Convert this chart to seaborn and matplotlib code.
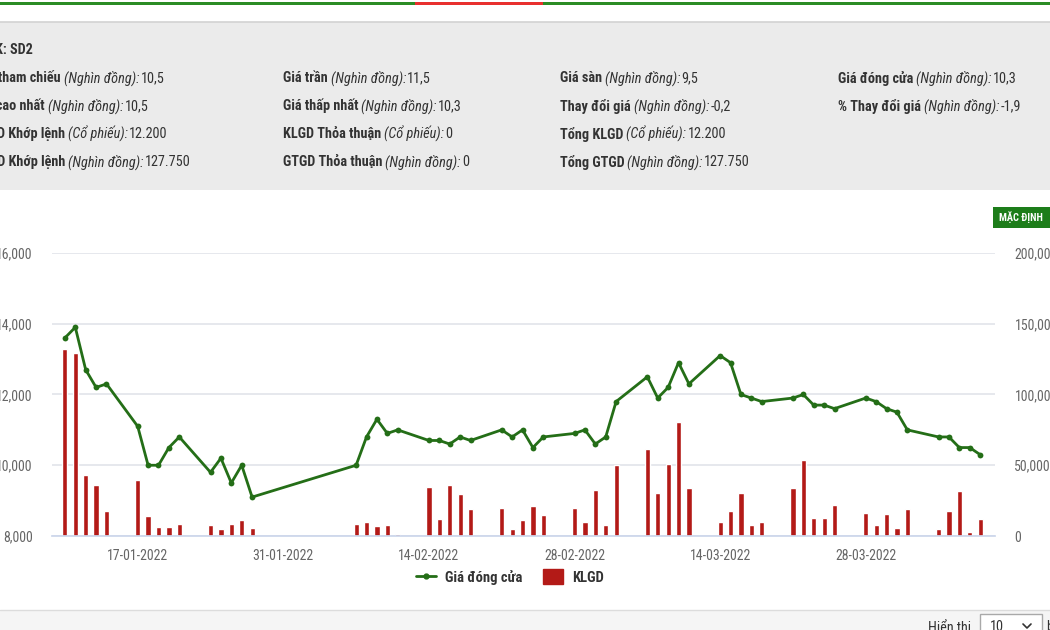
import matplotlib
matplotlib.use("Agg")
import matplotlib.pyplot as plt
import matplotlib.dates as mdates
import matplotlib.ticker as mticker
from matplotlib import font_manager
from matplotlib.lines import Line2D
from matplotlib.patches import Patch, Rectangle
from matplotlib.text import Annotation
import pandas as pd
import seaborn as sns

# ---- data ----
trade_dates = [
    "2022-01-10", "2022-01-11", "2022-01-12", "2022-01-13", "2022-01-14",
    "2022-01-17", "2022-01-18", "2022-01-19", "2022-01-20", "2022-01-21",
    "2022-01-24", "2022-01-25", "2022-01-26", "2022-01-27", "2022-01-28",
    "2022-02-07", "2022-02-08", "2022-02-09", "2022-02-10", "2022-02-11",
    "2022-02-14", "2022-02-15", "2022-02-16", "2022-02-17", "2022-02-18",
    "2022-02-21", "2022-02-22", "2022-02-23", "2022-02-24", "2022-02-25",
    "2022-02-28", "2022-03-01", "2022-03-02", "2022-03-03", "2022-03-04",
    "2022-03-07", "2022-03-08", "2022-03-09", "2022-03-10", "2022-03-11",
    "2022-03-14", "2022-03-15", "2022-03-16", "2022-03-17", "2022-03-18",
    "2022-03-21", "2022-03-22", "2022-03-23", "2022-03-24", "2022-03-25",
    "2022-03-28", "2022-03-29", "2022-03-30", "2022-03-31", "2022-04-01",
    "2022-04-04", "2022-04-05", "2022-04-06", "2022-04-07", "2022-04-08",
]
close_price = [
    13600, 13900, 12700, 12200, 12300,
    11100, 10000, 10000, 10500, 10800,
    9800, 10200, 9500, 10000, 9100,
    10000, 10800, 11300, 10900, 11000,
    10700, 10700, 10600, 10800, 10700,
    11000, 10800, 11000, 10500, 10800,
    10900, 11000, 10600, 10800, 11800,
    12500, 11900, 12200, 12900, 12300,
    13100, 12900, 12000, 11900, 11800,
    11900, 12000, 11700, 11700, 11600,
    11900, 11800, 11600, 11500, 11000,
    10800, 10800, 10500, 10500, 10300,
]
volume = [
    132000, 129300, 43100, 36300, 17900,
    39600, 14400, 6600, 6600, 8500,
    7500, 4900, 8500, 11100, 5900,
    8500, 10100, 6800, 7500, 1600,
    34600, 12000, 36300, 29400, 19100,
    19800, 4900, 11100, 21400, 14600,
    19800, 10100, 32700, 7500, 50200,
    61500, 30100, 51100, 80600, 33700,
    9900, 17900, 30100, 7500, 9900,
    33700, 53700, 12700, 12700, 22100,
    16000, 7500, 15300, 5900, 18800,
    4900, 17900, 32000, 3000, 12200,
]
tick_dates = ["2022-01-17", "2022-01-31", "2022-02-14", "2022-02-28", "2022-03-14", "2022-03-28"]
price_ticks = [8000, 10000, 12000, 14000, 16000]
volume_ticks = [0, 50000, 100000, 150000, 200000]

stock_code = "Mã CK: SD2"
info_labels = [
    ["Giá tham chiếu", "Giá cao nhất", "KLGD Khớp lệnh", "GTGD Khớp lệnh"],
    ["Giá trần", "Giá thấp nhất", "KLGD Thỏa thuận", "GTGD Thỏa thuận"],
    ["Giá sàn", "Thay đổi giá", "Tổng KLGD", "Tổng GTGD"],
    ["Giá đóng cửa", "% Thay đổi giá"],
]
info_units = [
    ["(Nghìn đồng):", "(Nghìn đồng):", "(Cổ phiếu):", "(Nghìn đồng):"],
    ["(Nghìn đồng):", "(Nghìn đồng):", "(Cổ phiếu):", "(Nghìn đồng):"],
    ["(Nghìn đồng):", "(Nghìn đồng):", "(Cổ phiếu):", "(Nghìn đồng):"],
    ["(Nghìn đồng):", "(Nghìn đồng):"],
]
info_values = [
    ["10,5", "10,5", "12.200", "127.750"],
    ["11,5", "10,3", "0", "0"],
    ["9,5", "-0,2", "12.200", "127.750"],
    ["10,3", "-1,9"],
]

GREEN = "#246e17"
RED = "#b31a17"
TXT = "#333333"
AXIS_TXT = "#666666"

sns.set_theme(style="white")
# pick the narrowest installed family we can find
installed = {f.name for f in font_manager.fontManager.ttflist}
narrow = [n for n in ["DejaVu Sans Condensed", "Roboto Condensed", "Liberation Sans Narrow",
                      "Open Sans Condensed", "Roboto"] if n in installed]
plt.rcParams["font.family"] = narrow[:1] + ["DejaVu Sans"]

fig = plt.figure(figsize=(10.5, 6.3), dpi=100)


def fx(x):
    return x / 1050


def fy(y):
    return 1 - y / 630


# ---- page chrome ----
fig.add_artist(Rectangle((0, fy(5)), 1, 3 / 630, transform=fig.transFigure, color="#2b8c25", lw=0))
fig.add_artist(Rectangle((fx(415), fy(5)), fx(128), 3 / 630, transform=fig.transFigure, color="#e8302e", lw=0))
fig.add_artist(Rectangle((0, fy(190)), 1, 168 / 630, transform=fig.transFigure, color="#ebebeb", lw=0))
fig.add_artist(Line2D([0, 1], [fy(22), fy(22)], transform=fig.transFigure, color="#d2d2d2", lw=1.2))
fig.add_artist(Rectangle((0, 0), 1, 20 / 630, transform=fig.transFigure, color="#f5f5f5", lw=0))
fig.add_artist(Line2D([0, 1], [fy(610), fy(610)], transform=fig.transFigure, color="#dcdcdc", lw=1))

HDR = 10.3


def info_cell(x, y, label, unit, value, right=False):
    t1 = fig.text(fx(x), fy(y), label, ha="right" if right else "left", va="center",
                  weight="bold", size=HDR, color=TXT)
    t2 = Annotation(unit, xy=(1, 0.5), xycoords=t1, xytext=(2, 0), textcoords="offset points",
                    va="center", ha="left", style="italic", size=HDR, color=TXT)
    fig.add_artist(t2)
    t3 = Annotation(value, xy=(1, 0.5), xycoords=t2, xytext=(1, 0), textcoords="offset points",
                    va="center", ha="left", size=HDR, color=TXT)
    fig.add_artist(t3)


fig.text(fx(33), fy(50), stock_code, ha="right", va="center", weight="bold", size=HDR, color=TXT)
row_y = [78, 106, 134, 162]
first_col_end = [61, 45, 65, 65]
col_x = [None, 283, 560, 838]
for c, labels in enumerate(info_labels):
    for r, lab in enumerate(labels):
        if c == 0:
            info_cell(first_col_end[r], row_y[r], lab, info_units[c][r], info_values[c][r], right=True)
        else:
            info_cell(col_x[c], row_y[r], lab, info_units[c][r], info_values[c][r])

# "MẶC ĐỊNH" button
fig.add_artist(Rectangle((fx(993), fy(228)), fx(60), 21 / 630, transform=fig.transFigure, color="#1d7d1a", lw=0))
fig.text(fx(1021), fy(217.5), "MẶC ĐỊNH", ha="center", va="center", color="white", weight="bold", size=7.5)

# bottom "Hiển thị" selector
fig.text(fx(928), fy(628), "Hiển thị", ha="left", va="center", size=HDR, color=TXT)
fig.add_artist(Rectangle((fx(980), fy(634)), fx(62), 20 / 630, transform=fig.transFigure,
                         facecolor="white", edgecolor="#a9a9a9", lw=1))
fig.text(fx(990), fy(627), "10", ha="left", va="center", size=HDR, color=TXT)
fig.add_artist(Line2D([fx(1023), fx(1027), fx(1031)], [fy(624), fy(628), fy(624)],
                      transform=fig.transFigure, color=TXT, lw=1.2))
fig.text(fx(1046), fy(627), "b", ha="left", va="center", size=HDR, color=TXT)

# ---- chart ----
df = pd.DataFrame({
    "date": pd.to_datetime(trade_dates),
    "close": close_price,
    "volume": volume,
})

ax = fig.add_axes([fx(52), fy(536), fx(995 - 52), (536 - 253) / 630])
ax2 = ax.twinx()

ax.bar(df["date"], df["volume"], width=0.5, color=RED, zorder=2)
sns.lineplot(data=df, x="date", y="close", ax=ax2, color=GREEN, linewidth=2,
             marker="o", markersize=4.2, markeredgewidth=0)

start = pd.Timestamp("2022-01-17")
ax.set_xlim(start - pd.Timedelta(days=8.24), start + pd.Timedelta(days=82.43))
ax.set_ylim(0, 200000)
ax2.set_ylim(8000, 16000)
ax.set_yticks(volume_ticks)
ax2.set_yticks(price_ticks)
ax.yaxis.tick_right()
ax2.yaxis.tick_left()
fmt = mticker.StrMethodFormatter("{x:,.0f}")
ax.yaxis.set_major_formatter(fmt)
ax2.yaxis.set_major_formatter(fmt)

ax.set_xticks(pd.to_datetime(tick_dates))
ax.xaxis.set_major_formatter(mdates.DateFormatter("%d-%m-%Y"))

ax.grid(axis="y", color="#dfe2e8", lw=1.1)
ax.grid(axis="x", visible=False)
ax2.grid(False)
ax.set_axisbelow(True)

for a in (ax, ax2):
    for s in a.spines.values():
        s.set_visible(False)
    a.set_xlabel("")
    a.set_ylabel("")
ax.spines["bottom"].set_visible(True)
ax.spines["bottom"].set_color("#ccd6eb")

ax.tick_params(axis="x", length=7, width=1, color="#ccd6eb", pad=2, labelsize=10, labelcolor=AXIS_TXT)
ax.tick_params(axis="y", length=0, pad=14, labelsize=10, labelcolor=AXIS_TXT)
ax2.tick_params(axis="y", length=0, pad=14, labelsize=10, labelcolor=AXIS_TXT)

handles = [
    Line2D([0], [0], color=GREEN, lw=2, marker="o", markersize=3.5),
    Patch(facecolor=RED, edgecolor=RED),
]
fig.legend(handles, ["Giá đóng cửa", "KLGD"], loc="center", bbox_to_anchor=(fx(510), fy(577)),
           ncol=2, frameon=False, prop={"weight": "bold", "size": 10.5}, labelcolor=TXT,
           handlelength=1.4, handleheight=1.2, columnspacing=1.4, handletextpad=0.6)

fig.savefig("out.png", dpi=100)
